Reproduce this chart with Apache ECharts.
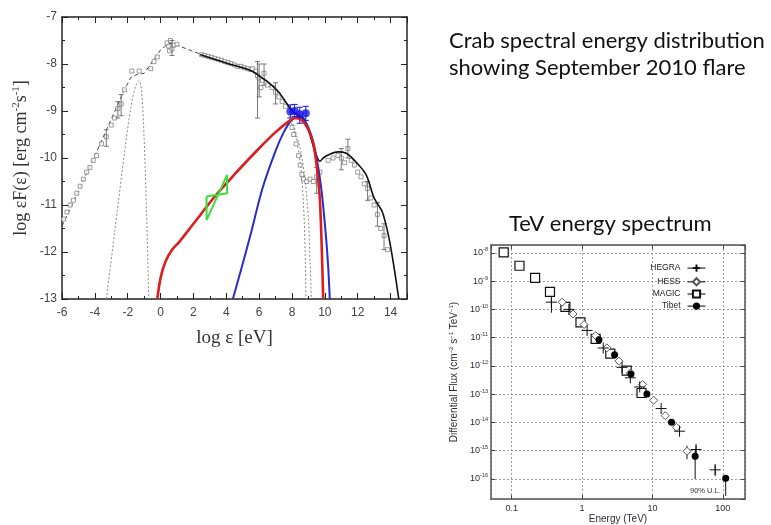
<!DOCTYPE html>
<html>
<head>
<meta charset="utf-8">
<script src="https://cdn.jsdelivr.net/npm/echarts@6/dist/echarts.min.js"></script>
<style>
  html, body { margin: 0; padding: 0; background: #fff; }
  #chart { width: 771px; height: 525px; }
</style>
</head>
<body>
<div id="chart"></div>
<script>
// ---- left panel: Crab SED (log eps [eV], log eps F(eps)) ----
const sedDashX = [-6, -4, -2.2, -1.8, -1.4, -1.0, -0.5, 0, 0.5, 1.0, 2.5];
const sedDashY = [-11.45, -9.95, -8.55, -8.28, -8.22, -8.2, -7.95, -7.7, -7.56, -7.6, -7.8];

const sedSolidX = [2.4, 4, 5, 5.6, 6.2, 6.6, 7.2, 7.7, 8.0, 8.3, 8.7, 9.0, 9.3, 9.55, 9.7, 9.9, 10.3, 10.8, 11.3, 11.8, 12.5, 13.0, 13.5, 13.9, 14.2, 14.5];
const sedSolidY = [-7.8, -7.98, -8.08, -8.16, -8.3, -8.4, -8.6, -8.85, -9.0, -9.07, -9.15, -9.4, -9.75, -10.0, -10.07, -10.0, -9.92, -9.87, -9.9, -10.05, -10.35, -10.85, -11.15, -11.7, -12.3, -13];

const redX = [-0.2, 0, 0.3, 0.7, 1.1, 2, 3.3, 4.5, 5.9, 7, 7.8, 8.2, 8.6, 9.0, 9.3, 9.55, 9.7, 9.8, 9.9];
const redY = [-13, -12.55, -12.2, -11.95, -11.8, -11.4, -10.82, -10.35, -9.83, -9.45, -9.22, -9.15, -9.2, -9.4, -9.7, -10.3, -10.9, -11.8, -13];

const blueX = [4.4, 5, 5.5, 6.2, 7, 7.5, 8, 8.4, 8.8, 9.2, 9.5, 9.8, 10.05, 10.2, 10.3];
const blueY = [-13, -12.25, -11.6, -10.65, -9.85, -9.45, -9.18, -9.12, -9.22, -9.55, -10.0, -10.7, -11.6, -12.3, -13];

const dotAX = [-3.3, -2.8, -2.2, -1.8, -1.5, -1.3, -1.15, -1.0, -0.85, -0.72];
const dotAY = [-13, -11.6, -9.9, -8.9, -8.45, -8.35, -8.6, -9.6, -11.2, -13];
const dotBX = [7.8, 8.2, 8.5, 8.7, 8.8, 8.85];
const dotBY = [-9.1, -9.5, -10.1, -11.0, -12.0, -13];
const dotCX = [8.0, 8.5, 8.8, 9.0, 9.1, 9.18];
const dotCY = [-9.2, -9.8, -10.5, -11.3, -12.2, -13];

const bowX = [2.8, 4.05, 4.05, 2.8, 2.8];
const bowY = [-10.82, -10.75, -10.36, -11.32, -10.82];

const obsX = [-5.9, -5.7, -5.5, -5.3, -5.1, -4.9, -4.7, -4.5, -4.3, -4.1, -3.9, -3.6, -3.3, -3.0, -2.8, -2.6, -2.4, -2.2,
  -1.75, -1.3, -0.6, -0.4, -0.2, 0.4, 0.5, 0.6, 0.8, 1.0, 0.55, 0.7,
  2.5, 2.7, 2.9, 3.1, 3.3, 3.5, 3.7, 3.9, 4.1, 4.3, 4.5, 4.7, 4.9, 5.1, 5.3, 5.5,
  5.6, 5.8, 5.9, 6.0, 6.1, 6.2, 6.3, 6.5, 6.8, 7.0, 7.2, 7.4, 7.6,
  8.0, 8.1, 8.25, 8.4, 8.5, 8.6, 8.7, 8.9, 9.1, 9.3, 9.5, 9.6, 9.7,
  10.2, 10.5, 10.8, 11.0, 11.2, 11.4, 11.6, 11.8, 12.0, 12.2, 12.4, 12.6, 12.8, 13.0, 13.2, 13.4, 13.6, 13.8];
const obsY = [-11.3, -11.15, -11.0, -10.9, -10.75, -10.6, -10.45, -10.3, -10.2, -10.05, -9.95, -9.7, -9.55, -9.3, -9.15, -8.95, -8.85, -8.55,
  -8.15, -8.15, -8.1, -7.95, -7.85, -7.55, -7.62, -7.5, -7.6, -7.58, -7.72, -7.68,
  -7.8, -7.82, -7.84, -7.86, -7.88, -7.9, -7.92, -7.95, -7.97, -7.99, -8.02, -8.05, -8.05, -8.08, -8.1, -8.12,
  -8.1, -8.15, -8.25, -8.3, -8.5, -8.35, -8.2, -8.45, -8.5, -8.6, -8.7, -8.8, -8.9,
  -9.35, -9.5, -9.7, -9.95, -10.15, -10.35, -10.45, -10.5, -10.45, -10.5, -10.4, -10.55, -10.3,
  -10.05, -10.0, -9.95, -10.0, -10.1, -9.8, -10.05, -10.15, -10.3, -10.4, -10.55, -10.65, -10.85, -11.0, -11.2, -11.5, -11.65, -11.95];
// error bars: x, low, high
const obsErrX = [-2.4, -2.6, -3.3, 0.7, 5.9, 6.0, 6.3, 7.0, 9.5, 11.0, 11.4, 12.6, 13.2, 13.6];
const obsErrLo = [-9.1, -9.15, -9.75, -7.82, -9.15, -8.7, -8.45, -8.85, -10.75, -10.25, -10.0, -10.9, -11.45, -11.95];
const obsErrHi = [-8.65, -8.8, -9.4, -7.5, -7.95, -8.0, -8.0, -8.4, -10.2, -9.8, -9.6, -10.5, -10.95, -11.4];

const flareX = [7.9, 8.16, 8.47, 8.84];
const flareY = [-9.01, -9.0, -9.07, -9.05];
const flareLo = [-9.15, -9.12, -9.26, -9.2];
const flareHi = [-8.87, -8.86, -8.92, -8.9];

// ---- right panel: TeV spectrum ----
const magicE = [0.077, 0.129, 0.215, 0.35, 0.58, 0.95, 1.56, 2.52, 4.3, 7.0];
const magicF = [1.05e-8, 3.5e-9, 1.3e-9, 4.2e-10, 1.23e-10, 3.5e-11, 9.1e-12, 2.7e-12, 6.8e-13, 1.1e-13];
const hessE = [0.52, 0.745, 1.07, 1.56, 2.26, 3.35, 4.85, 7.25, 10.4, 15.2, 22, 31];
const hessF = [1.8e-10, 6.9e-11, 2.9e-11, 1.18e-11, 4.35e-12, 1.47e-12, 5.6e-13, 2.2e-13, 6.1e-14, 1.74e-14, 6.7e-15, 9.5e-16];
const hegraE = [0.367, 0.65, 1.18, 2.0, 3.7, 4.85, 6.6, 13.3, 24.3, 41.7, 78];
const hegraF = [1.8e-10, 1.0e-10, 1.8e-11, 4.3e-12, 8.9e-13, 3.8e-13, 1.8e-13, 3.1e-14, 4.9e-15, 1.1e-15, 2.1e-16];
const tibetE = [1.74, 2.9, 4.95, 8.35, 18.7, 40.5, 110];
const tibetF = [8.5e-12, 2.5e-12, 5.2e-13, 1.02e-13, 1.02e-14, 6.3e-16, 1.05e-16];
const tevErrE = [0.367, 31, 40.5, 41.7, 78, 110];
const tevErrLo = [7.6e-11, 5e-16, 1.0e-16, 7e-16, 1.3e-16, 2.5e-17];
const tevErrHi = [2.3e-10, 1.5e-15, 1.1e-15, 1.5e-15, 3.2e-16, 1.05e-16];

const yTicksLeft = [-13, -12, -11, -10, -9, -8, -7];
const xTicksTeV = [0.1, 1, 10, 100];

function pairs(xs, ys) { return xs.map((x, i) => [x, ys[i]]); }

function errBars(xs, lo, hi, color, cap, xi, yi) {
  return {
    type: 'custom', xAxisIndex: xi, yAxisIndex: yi, silent: true, z: 4,
    data: xs.map((x, i) => [x, lo[i], hi[i]]),
    renderItem: function (params, api) {
      const a = api.coord([api.value(0), api.value(1)]);
      const b = api.coord([api.value(0), api.value(2)]);
      const st = { stroke: color, lineWidth: 1 };
      return { type: 'group', children: [
        { type: 'line', shape: { x1: a[0], y1: a[1], x2: b[0], y2: b[1] }, style: st },
        { type: 'line', shape: { x1: a[0] - cap, y1: a[1], x2: a[0] + cap, y2: a[1] }, style: st },
        { type: 'line', shape: { x1: b[0] - cap, y1: b[1], x2: b[0] + cap, y2: b[1] }, style: st }
      ] };
    }
  };
}

const axLine = { onZero: false, lineStyle: { color: '#222', width: 1.5 } };
const tickIn = { inside: true, length: 6, lineStyle: { color: '#222' } };
const minorIn = { show: true, splitNumber: 2, length: 3, lineStyle: { color: '#222' } };
const leftLabel = { color: '#444', fontSize: 12, fontFamily: 'Liberation Sans, Arial' };
const serif = 'Liberation Serif, Times New Roman, serif';

const rightFrame = { onZero: false, lineStyle: { color: '#555', width: 1.5 } };
const rightTick = { inside: true, length: 4, lineStyle: { color: '#444' } };
const dotGrid = { show: true, lineStyle: { color: '#888', type: [2, 2], width: 0.8 } };
const rightLabel = { color: '#2b2b3a', fontSize: 9, fontFamily: 'Liberation Sans, Arial' };

const option = {
  animation: false,
  backgroundColor: '#fff',
  title: [
    { text: 'Crab spectral energy distribution\nshowing September 2010 flare', left: 449, top: 27, padding: 0,
      textStyle: { fontFamily: 'Lato', fontWeight: 'normal', fontSize: 22, color: '#111', lineHeight: 27 } },
    { text: 'TeV energy spectrum', left: 509, top: 211, padding: 0,
      textStyle: { fontFamily: 'Lato', fontWeight: 'normal', fontSize: 22, color: '#111', lineHeight: 26 } }
  ],
  grid: [
    { left: 62, top: 17, width: 345, height: 282 },
    { left: 491, top: 245, width: 254, height: 254 }
  ],
  legend: {
    orient: 'vertical', align: 'right', right: 60, top: 257,
    itemWidth: 18, itemHeight: 9, itemGap: 3,
    textStyle: { fontSize: 8.5, color: '#222', fontFamily: 'Liberation Sans, Arial', padding: [0, 2, 0, 0] },
    lineStyle: { color: '#000', width: 1, opacity: 1 },
    data: ['HEGRA', 'HESS', 'MAGIC', 'Tibet']
  },
  xAxis: [
    { gridIndex: 0, type: 'value', min: -6, max: 15, interval: 2, position: 'bottom',
      axisLine: axLine, axisTick: tickIn, minorTick: minorIn, splitLine: { show: false },
      axisLabel: Object.assign({ margin: 8, showMaxLabel: false }, leftLabel),
      name: 'log ε [eV]', nameLocation: 'middle', nameGap: 30,
      nameTextStyle: { fontFamily: serif, fontSize: 19, color: '#333' } },
    { gridIndex: 0, type: 'value', min: -6, max: 15, interval: 2, position: 'top',
      axisLine: axLine, axisTick: tickIn, minorTick: minorIn, splitLine: { show: false },
      axisLabel: { show: false } },
    { gridIndex: 1, type: 'log', logBase: 10, min: 0.0508, max: 207, position: 'bottom',
      axisLine: rightFrame, axisTick: rightTick, splitLine: dotGrid,
      axisLabel: Object.assign({ margin: 5, showMinLabel: false, showMaxLabel: false,
        formatter: v => xTicksTeV.find(t => Math.abs(Math.log10(t) - Math.log10(v)) < 1e-6) !== undefined ? String(v) : '' }, rightLabel),
      name: 'Energy (TeV)', nameLocation: 'middle', nameGap: 14,
      nameTextStyle: { fontSize: 10, color: '#2b2b3a', fontFamily: 'Liberation Sans, Arial' } },
    { gridIndex: 1, type: 'log', logBase: 10, min: 0.0508, max: 207, position: 'top',
      axisLine: rightFrame, axisTick: rightTick, splitLine: { show: false }, axisLabel: { show: false } }
  ],
  yAxis: [
    { gridIndex: 0, type: 'value', min: -13, max: -7, interval: 1, position: 'left',
      axisLine: axLine, axisTick: tickIn, minorTick: minorIn, splitLine: { show: false },
      axisLabel: Object.assign({ margin: 5, formatter: v => yTicksLeft.indexOf(v) >= 0 ? String(v) : '' }, leftLabel),
      name: 'log εF(ε) [erg cm{s|-2}s{s|-1}]', nameLocation: 'middle', nameGap: 31,
      nameTextStyle: { fontFamily: serif, fontSize: 18, color: '#333',
        rich: { s: { fontFamily: serif, fontSize: 11, color: '#333', padding: [0, 0, 9, 0] } } } },
    { gridIndex: 0, type: 'value', min: -13, max: -7, interval: 1, position: 'right',
      axisLine: axLine, axisTick: tickIn, minorTick: minorIn, splitLine: { show: false },
      axisLabel: { show: false } },
    { gridIndex: 1, type: 'log', logBase: 10, min: 1.95e-17, max: 1.9e-8, position: 'left',
      axisLine: rightFrame, axisTick: rightTick, splitLine: dotGrid,
      axisLabel: Object.assign({ margin: 3, showMinLabel: false, showMaxLabel: false,
        formatter: v => '10{e|' + Math.round(Math.log10(v)) + '}',
        rich: { e: { fontSize: 5.5, color: '#2b2b3a', padding: [0, 0, 6, 0] } } }, rightLabel),
      name: 'Differential Flux (cm{s|−2} s{s|−1} TeV{s|−1})', nameLocation: 'middle', nameGap: 31,
      nameTextStyle: { fontSize: 10, color: '#2b2b3a', fontFamily: 'Liberation Sans, Arial',
        rich: { s: { fontSize: 6, color: '#2b2b3a', padding: [0, 0, 6, 0] } } } },
    { gridIndex: 1, type: 'log', logBase: 10, min: 1.95e-17, max: 1.9e-8, position: 'right',
      axisLine: rightFrame, axisTick: rightTick, splitLine: { show: false }, axisLabel: { show: false } }
  ],
  graphic: [
    { type: 'text', left: 690, top: 487, style: { text: '90% U.L.', fontSize: 7.5, fill: '#333', fontFamily: 'Liberation Sans, Arial' } }
  ],
  series: [
    // SED model curves
    { type: 'line', xAxisIndex: 0, yAxisIndex: 0, data: pairs(dotAX, dotAY), showSymbol: false, smooth: 0.3,
      lineStyle: { color: '#888', width: 1, type: [2, 2] } },
    { type: 'line', xAxisIndex: 0, yAxisIndex: 0, data: pairs(dotBX, dotBY), showSymbol: false, smooth: 0.3,
      lineStyle: { color: '#888', width: 1, type: [2, 2] } },
    { type: 'line', xAxisIndex: 0, yAxisIndex: 0, data: pairs(dotCX, dotCY), showSymbol: false, smooth: 0.3,
      lineStyle: { color: '#888', width: 1, type: [2, 2] } },
    { type: 'line', xAxisIndex: 0, yAxisIndex: 0, data: pairs(sedDashX, sedDashY), showSymbol: false,
      lineStyle: { color: '#444', width: 1, type: [4, 3] } },
    { type: 'scatter', xAxisIndex: 0, yAxisIndex: 0, data: pairs(obsX, obsY), symbol: 'rect', symbolSize: 4,
      itemStyle: { color: '#fff', borderColor: '#666', borderWidth: 0.8 }, z: 3 },
    errBars(obsErrX, obsErrLo, obsErrHi, '#777', 2.5, 0, 0),
    { type: 'line', xAxisIndex: 0, yAxisIndex: 0, data: pairs(sedSolidX, sedSolidY), showSymbol: false, smooth: 0.3,
      lineStyle: { color: '#111', width: 1.6 }, z: 5 },
    { type: 'line', xAxisIndex: 0, yAxisIndex: 0, data: pairs(blueX, blueY), showSymbol: false, smooth: 0.3,
      lineStyle: { color: '#2b2bc8', width: 2 }, z: 6 },
    { type: 'line', xAxisIndex: 0, yAxisIndex: 0, data: pairs(redX, redY), showSymbol: false, smooth: 0.3,
      lineStyle: { color: '#d91e1e', width: 2.6 }, z: 7 },
    { type: 'line', xAxisIndex: 0, yAxisIndex: 0, data: pairs(bowX, bowY), showSymbol: false,
      lineStyle: { color: '#3ddc3d', width: 2 }, z: 8 },
    errBars(flareX, flareLo, flareHi, '#1414e6', 3, 0, 0),
    { type: 'scatter', xAxisIndex: 0, yAxisIndex: 0, data: pairs(flareX, flareY), symbol: 'circle', symbolSize: 8,
      itemStyle: { color: '#1414e6' }, z: 9 },
    // TeV spectrum
    errBars(tevErrE, tevErrLo, tevErrHi, '#111', 0, 2, 2),
    { name: 'HEGRA', type: 'line', xAxisIndex: 2, yAxisIndex: 2, data: pairs(hegraE, hegraF),
      symbol: 'path://M0,5L10,5M5,0L5,10', symbolSize: 11, showSymbol: true,
      lineStyle: { opacity: 0 }, itemStyle: { color: 'none', borderColor: '#111', borderWidth: 1 }, z: 5 },
    { name: 'HESS', type: 'line', xAxisIndex: 2, yAxisIndex: 2, data: pairs(hessE, hessF),
      symbol: 'diamond', symbolSize: 8, showSymbol: true,
      lineStyle: { opacity: 0 }, itemStyle: { color: '#fff', borderColor: '#555', borderWidth: 1 }, z: 4 },
    { name: 'MAGIC', type: 'line', xAxisIndex: 2, yAxisIndex: 2, data: pairs(magicE, magicF),
      symbol: 'rect', symbolSize: 9, showSymbol: true,
      lineStyle: { opacity: 0 }, itemStyle: { color: '#fff', borderColor: '#111', borderWidth: 1.2 }, z: 3 },
    { name: 'Tibet', type: 'line', xAxisIndex: 2, yAxisIndex: 2, data: pairs(tibetE, tibetF),
      symbol: 'circle', symbolSize: 7, showSymbol: true,
      lineStyle: { opacity: 0 }, itemStyle: { color: '#000' }, z: 6 }
  ]
};

const chart = echarts.init(document.getElementById('chart'));
chart.setOption(option);
</script>
</body>
</html>
